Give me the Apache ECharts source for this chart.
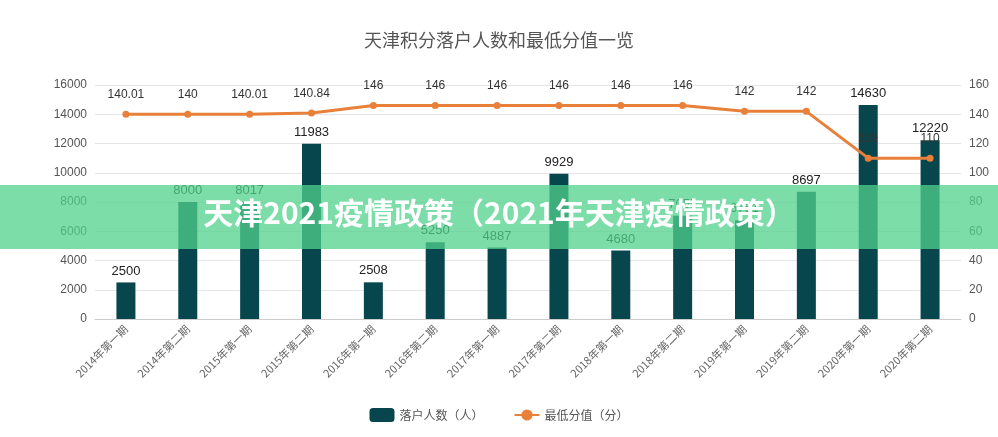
<!DOCTYPE html><html><head><meta charset="utf-8"><script src="https://cdn.jsdelivr.net/npm/echarts@6/dist/echarts.min.js"></script></head><body style="margin:0"><div id="c" style="width:998px;height:437px"></div><script>
const categories=['2014年第一期','2014年第二期','2015年第一期','2015年第二期','2016年第一期','2016年第二期','2017年第一期','2017年第二期','2018年第一期','2018年第二期','2019年第一期','2019年第二期','2020年第一期','2020年第二期'];
const people=[2500,8000,8017,11983,2508,5250,4887,9929,4680,7055,6751,8697,14630,12220];
const minScore=[140.01,140,140.01,140.84,146,146,146,146,146,146,142,142,110,110];
const c=echarts.init(document.getElementById('c'));
const f='"Noto Sans CJK SC",sans-serif';
c.setOption({
title:{text:'天津积分落户人数和最低分值一览',left:'center',top:26,textStyle:{fontFamily:f,fontSize:18,fontWeight:'normal',color:'#555'}},
legend:{bottom:10,itemGap:30,textStyle:{fontFamily:f,fontSize:12,color:'#555'},data:['落户人数（人）','最低分值（分）']},
grid:{left:95,right:37,top:85,bottom:118},
xAxis:{type:'category',data:categories,axisLabel:{rotate:45,fontFamily:f,fontSize:11,color:'#666'},axisTick:{show:false},axisLine:{lineStyle:{color:'#ccc'}}},
yAxis:[{type:'value',min:0,max:16000,interval:2000,axisLabel:{color:'#555',fontSize:12,formatter:v=>String(v)},splitLine:{lineStyle:{color:'#e6e6e6'}}},
{type:'value',min:0,max:160,interval:20,axisLabel:{color:'#555',fontSize:12},splitLine:{show:false}}],
series:[{name:'落户人数（人）',type:'bar',data:people,barWidth:19,itemStyle:{color:'#07464d'},label:{show:true,position:'top',color:'#222',fontSize:13}},
{name:'最低分值（分）',type:'line',yAxisIndex:1,data:minScore,symbol:'circle',symbolSize:7,itemStyle:{color:'#e8803a'},lineStyle:{width:3,color:'#e8803a'},label:{show:true,position:'top',distance:10,color:'#333',fontSize:12}}],
graphic:[{type:'rect',left:0,top:185,shape:{width:998,height:64},style:{fill:'rgba(80,210,140,0.75)'},z:100},
{type:'text',left:'center',top:198,style:{text:'天津2021疫情政策（2021年天津疫情政策）',font:'bold 30px "Noto Sans CJK SC"',fill:'#fff'},z:101}]
});
</script></body></html>
